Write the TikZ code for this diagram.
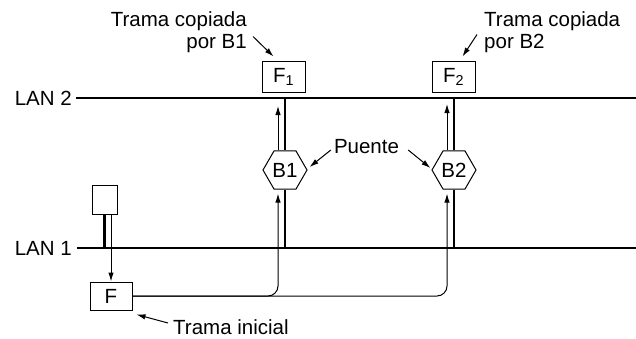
\documentclass[tikz,border=0pt]{standalone}
\usepackage{fontspec}
\setmainfont{Liberation Sans}
\usetikzlibrary{shapes.geometric,arrows.meta,calc}
\begin{document}
\begin{tikzpicture}[x=1pt,y=-1pt,
  every node/.style={font=\fontsize{20.5}{22}\selectfont, inner sep=0pt},
  lan/.style={line width=2.2pt},
  tap/.style={line width=2.6pt},
  arr/.style={line width=1pt, -{Latex[length=9pt,width=5.5pt]}},
  box/.style={draw, line width=1pt, fill=white, minimum width=43pt, minimum height=31pt},
  hex/.style={draw, line width=1pt, fill=white, regular polygon, regular polygon sides=6, minimum size=44pt}]
\useasboundingbox (0,0) rectangle (636,338);
% LANs
\coordinate (L2s) at (76,98);  \coordinate (L2e) at (636,98);
\coordinate (L1s) at (77,248); \coordinate (L1e) at (636,248);
\draw[lan] (L2s) -- (L2e);
\draw[lan] (L1s) -- (L1e);
\node[anchor=east] (lan2) at (72,98) {LAN 2};
\node[anchor=east] (lan1) at (72,248) {LAN 1};
% station and initial frame
\node[box, minimum width=25pt, minimum height=29pt] (st) at (104.5,199.5) {};
\node[box, minimum width=42pt, minimum height=28pt] (F) at (111,296) {F};
\draw[tap] (st.south) -- (st.south |- L1s);
\draw[arr] (F.north |- st.south) -- (F.north);
% bridges
\node[hex] (B1) at (285,170) {B1};
\node[hex] (B2) at (454,170) {B2};
\draw[tap] (B1.north) -- (B1.north |- L2s);
\draw[tap] (B1.south) -- (B1.south |- L1s);
\draw[tap] (B2.north) -- (B2.north |- L2s);
\draw[tap] (B2.south) -- (B2.south |- L1s);
% copied frames
\node[box] (F1) at (283.5,76.5) {F$_{\mathrm{1}}$};
\node[box] (F2) at (453.5,76.5) {F$_{\mathrm{2}}$};
% frame paths
\draw[arr, rounded corners=10pt] (F.east) -| ($(B1.south)+(-7,4)$);
\draw[arr, rounded corners=10pt] (F.east) -| ($(B2.south)+(-7,4)$);
\draw[arr] ($(B1.north)+(-7,0)$) -- ($(B1.north |- L2s)+(-7,8)$);
\draw[arr] ($(B2.north)+(-7,0)$) -- ($(B2.north |- L2s)+(-7,6)$);
% labels
\node[anchor=north east, align=right] (t1) at (247,11) {Trama copiada\\por B1};
\node[anchor=north west, align=left] (t2) at (484,11) {Trama copiada\\por B2};
\draw[arr] ($(t1.south east)+(6,-16)$) -- ($(F1.north west)+(12,-4)$);
\draw[arr] ($(t2.south west)+(-7,-18)$) -- ($(F2.north west)+(31,-4)$);
\node (pu) at (366.5,147) {Puente};
\draw[arr] ($(pu.west)+(-3,3)$) -- ($(B1.east)+(2,-3)$);
\draw[arr] ($(pu.east)+(9,3)$) -- ($(B2.west)+(-1,-2)$);
\node[anchor=west] (ti) at (173,327) {Trama inicial};
\draw[arr] ($(ti.west)+(-5,-4)$) -- ($(F.south east)+(4,4)$);
\end{tikzpicture}
\end{document}
